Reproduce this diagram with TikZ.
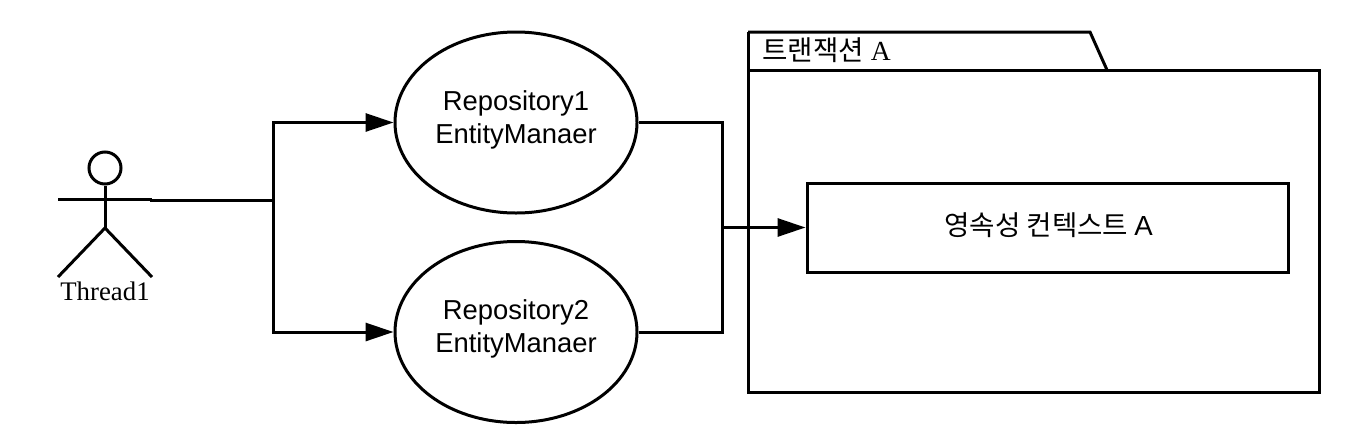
\documentclass[tikz,border=0pt]{standalone}
\usepackage{fontspec}
\setmainfont{Liberation Sans}
\newfontfamily\serifface{Liberation Serif}
\newfontfamily\krface{Noto Sans CJK KR}
\usetikzlibrary{arrows.meta,shapes.geometric}
\tikzset{
  every path/.style={line width=1.5pt,black},
  usecase/.style={draw,ellipse,minimum width=121pt,minimum height=90.5pt,inner sep=0pt},
  uselabel/.style={align=center,inner sep=0pt,font=\fontsize{13.7}{16.8}\selectfont},
  ctxbox/.style={draw,rectangle,minimum width=240.5pt,minimum height=44.5pt,inner sep=0pt,font=\fontsize{13.8}{15}\selectfont},
  head/.style={draw,circle,minimum size=16pt,inner sep=0pt},
  flow/.style={-{Triangle[length=14pt,width=9pt]},line width=1.5pt},
  plain/.style={line width=1.5pt},
  limb/.style={line width=1.5pt}
}
\begin{document}
\begin{tikzpicture}[x=0.5pt,y=-0.5pt]
\useasboundingbox (0,0) rectangle (1352,434);
% package
\draw[limb] (748,32) -- (1090,32) -- (1107,70);
\draw[limb] (748,32) -- (748,392) -- (1319,392) -- (1319,70) -- (748,70);
\node[anchor=west,inner sep=0pt,font=\fontsize{13.8}{16}\selectfont] (pkglabel) at (761,50) {\krface 트랜잭션\serifface{} A};
% nodes
\node[usecase] (repoa) at (516,122.5) {};
\node[usecase] (repob) at (516,332) {};
\node[uselabel] (repoatext) at (516,120) {Repository1\\EntityManaer};
\node[uselabel] (repobtext) at (516,329) {Repository2\\EntityManaer};
\node[ctxbox] (ctx) at (1047.5,227.5) {\hspace{1pt}\raisebox{3pt}{\krface 영속성 컨텍스트\ \fontspec{Liberation Sans}A}};
% actor
\node[head] (head) at (105,168) {};
\coordinate (hip) at (105,228);
\coordinate (armL) at (58,199);
\coordinate (armR) at (152,199);
\coordinate (legL) at (58,277);
\coordinate (legR) at (152,277);
\draw[limb] (head) -- (hip);
\draw[limb] (armL) -- (armR);
\draw[limb] (legL) -- (hip) -- (legR);
\node[font=\serifface\fontsize{13.4}{14}\selectfont,inner sep=0pt] (actorlabel) at (105,291) {Thread1};
% connectors
\coordinate (forkS) at (150,200);
\coordinate (forkL) at (273,200);
\coordinate (forkR) at (722,227.5);
\draw[plain] (forkS) -- (forkL);
\draw[flow] (forkL) |- (repoa.west);
\draw[flow] (forkL) |- (repob.west);
\draw[plain] (repoa.east) -| (forkR);
\draw[plain] (repob.east) -| (forkR);
\draw[flow] (forkR) -- (ctx.west);
\end{tikzpicture}
\end{document}
